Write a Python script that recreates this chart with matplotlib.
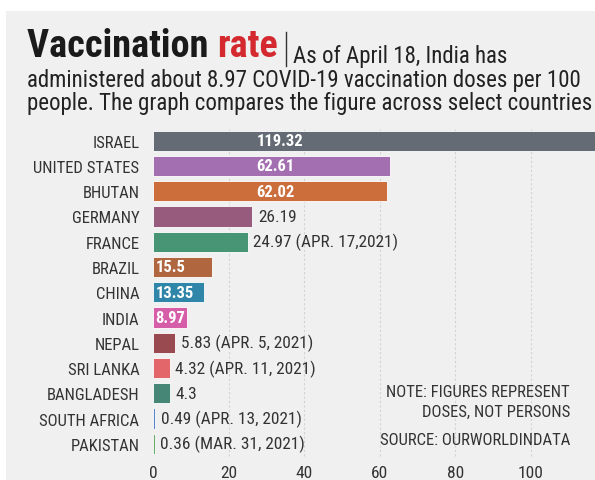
import matplotlib.pyplot as plt
import matplotlib.patches as mpatches
from matplotlib import font_manager as fm

installed = {f.name for f in fm.fontManager.ttflist}
base = "Roboto"
for cand in ["Roboto Condensed", "Liberation Sans Narrow", "Open Sans Condensed", "Noto Sans Condensed"]:
    if cand in installed:
        base = cand
        break
plt.rcParams['font.family'] = [base, 'DejaVu Sans']

countries = ["ISRAEL", "UNITED STATES", "BHUTAN", "GERMANY", "FRANCE", "BRAZIL", "CHINA",
             "INDIA", "NEPAL", "SRI LANKA", "BANGLADESH", "SOUTH AFRICA", "PAKISTAN"]
doses = [119.32, 62.61, 62.02, 26.19, 24.97, 15.5, 13.35, 8.97, 5.83, 4.32, 4.3, 0.49, 0.36]
notes = ["", "", "", "", " (APR. 17,2021)", "", "", "", " (APR. 5, 2021)", " (APR. 11, 2021)",
         "", " (APR. 13, 2021)", " (MAR. 31, 2021)"]
colors = ["#646b74", "#a46fb0", "#cc6d3c", "#975b7e", "#479574", "#b0663e", "#2f86a8",
          "#d65ea9", "#984a50", "#e2666a", "#458676", "#5b83c5", "#68a96b"]
inside_mid = ["ISRAEL", "UNITED STATES", "BHUTAN"]
inside_left = ["BRAZIL", "CHINA", "INDIA"]
xticks = [0, 20, 40, 60, 80, 100]

W, H = 595, 481
fig = plt.figure(figsize=(W / 100, H / 100), dpi=100)
fig.patch.set_facecolor("white")
fig.add_artist(mpatches.Rectangle((6 / W, 0), 1, 1 - 12 / H, transform=fig.transFigure,
                                  facecolor="#eff0ef", edgecolor="none", zorder=0))

ax = fig.add_axes([153.3 / W, 1 - 460 / H, 1 - 153.3 / W, (460 - 126.5) / H])
ax.set_facecolor("none")
ypos = list(range(len(countries)))
ax.barh(ypos, doses, height=0.8, color=colors, edgecolor="white", linewidth=0.6, zorder=3)
ax.set_xlim(0, 117.03)
ax.set_ylim(12.6, -0.6)
ax.set_yticks(ypos)
ax.set_yticklabels(countries, fontsize=12, color="#333333")
ax.set_xticks(xticks)
ax.set_xticklabels([str(t) for t in xticks], fontsize=12.5, color="#333333")
ax.tick_params(length=0, axis="y", pad=10)
ax.tick_params(length=0, axis="x", pad=4)
for s in ax.spines.values():
    s.set_visible(False)
for t in xticks[1:]:
    ax.axvline(t, ymin=0.01, ymax=0.99, color="#d2d4d4", lw=0.8, ls=(0, (2, 2)), zorder=1)

for i, (c, v, n) in enumerate(zip(countries, doses, notes)):
    if c in inside_mid:
        ax.text(27.4, i, f"{v:g}", va="center", ha="left", color="white",
                fontsize=12, fontweight="bold", zorder=4)
    elif c in inside_left:
        ax.text(0.6, i, f"{v:g}", va="center", ha="left", color="white",
                fontsize=12, fontweight="bold", zorder=4)
    else:
        ax.text(v + 1.5, i, f"{v:g}" + n, va="center", ha="left", color="#333333",
                fontsize=12.4, zorder=4)

fig.text(570 / W, 1 - 393 / H, "NOTE: FIGURES REPRESENT", ha="right", va="center",
         fontsize=12, color="#333333")
fig.text(570 / W, 1 - 412 / H, "DOSES, NOT PERSONS", ha="right", va="center",
         fontsize=12, color="#333333")
fig.text(570 / W, 1 - 441 / H, "SOURCE: OURWORLDINDATA", ha="right", va="center",
         fontsize=12, color="#333333")

# title line
renderer = fig.canvas.get_renderer()
t1 = fig.text(27 / W, 1 - 57 / H, "Vaccination ", fontsize=27.5, fontweight="bold",
              color="#1a1a1a", va="baseline")
bb = t1.get_window_extent(renderer)
t2 = fig.text(bb.x1 / W, 1 - 57 / H, "rate", fontsize=27.5, fontweight="bold",
              color="#d42a2f", va="baseline")
bb2 = t2.get_window_extent(renderer)
fig.add_artist(plt.Line2D([(bb2.x1 + 8) / W] * 2, [1 - 67 / H, 1 - 33 / H],
                          transform=fig.transFigure, color="#333333", lw=1))
fig.text((bb2.x1 + 15) / W, 1 - 63 / H, "As of April 18, India has", fontsize=16.5,
         color="#222222", va="baseline")
fig.text(27 / W, 1 - 87 / H, "administered about 8.97 COVID-19 vaccination doses per 100",
         fontsize=16.5, color="#222222", va="baseline")
fig.text(27 / W, 1 - 110 / H, "people. The graph compares the figure across select countries",
         fontsize=16.5, color="#222222", va="baseline")

fig.savefig("out.png", dpi=100, facecolor=fig.get_facecolor())
